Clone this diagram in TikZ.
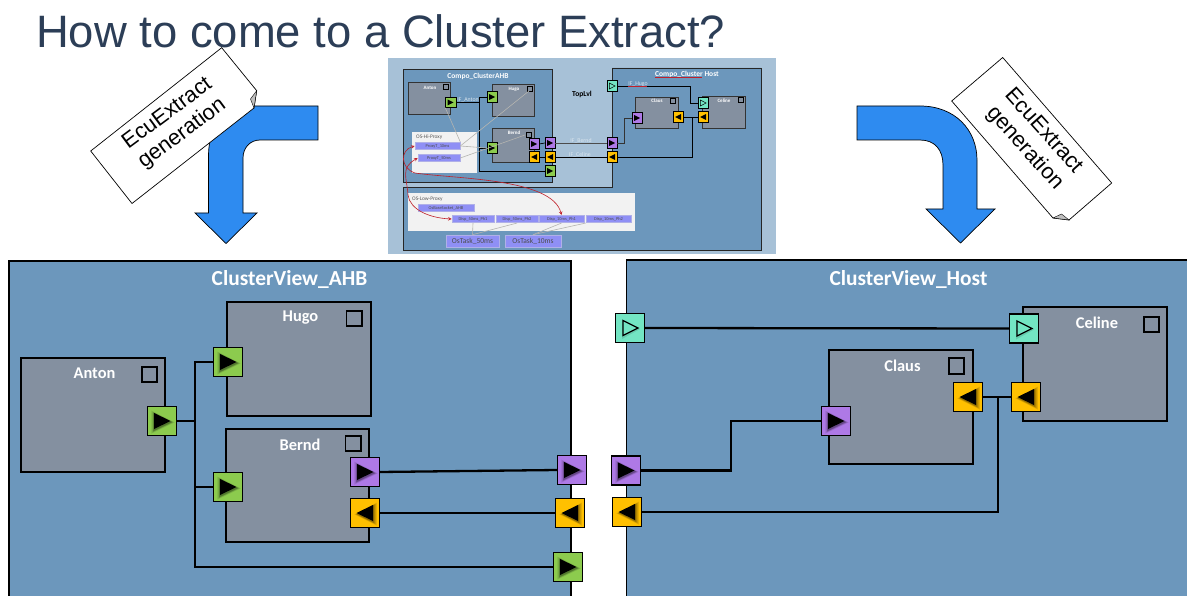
\documentclass[tikz,border=0pt]{standalone}
\usepackage{fontspec}
\setmainfont{Carlito}
\newfontfamily\titlefont{Liberation Sans}
\usetikzlibrary{calc}
\definecolor{panelblue}{HTML}{6C97BC}
\definecolor{boxgrey}{HTML}{8490A0}
\definecolor{arrowblue}{HTML}{2E8BF0}
\definecolor{titlecol}{HTML}{2C3E57}
\definecolor{pgreen}{HTML}{8CCB4E}
\definecolor{ppurple}{HTML}{AE79E6}
\definecolor{porange}{HTML}{FFC000}
\definecolor{pteal}{HTML}{73E5C3}
\definecolor{shotbg}{HTML}{A7C1D7}
\definecolor{osbox}{HTML}{F2F2F2}
\definecolor{taskfill}{HTML}{8F8FF5}
\definecolor{taskedge}{HTML}{B0B0E8}
\definecolor{redline}{HTML}{C0202A}
\definecolor{greyline}{HTML}{B4B4B0}
\tikzset{
  x=1pt,y=-1pt,
  panel/.style={draw=black,line width=1.3pt,fill=panelblue},
  swc/.style={draw=black,line width=1.2pt,fill=boxgrey},
  sqr/.style={draw=black,line width=1.1pt,fill=none},
  portbox/.style={draw=black,line width=1.3pt,minimum size=29pt,inner sep=0pt,outer sep=0pt,anchor=center},
  wire/.style={draw=black,line width=2.3pt,line join=miter},
  plabel/.style={text=white,font=\bfseries\fontsize{16.4}{18}\selectfont,inner sep=0pt},
  ptitle/.style={text=white,font=\bfseries\fontsize{21.4}{23}\selectfont,inner sep=0pt},
  bigarrow/.style={draw=black,line width=0.7pt,fill=arrowblue,line join=miter},
  paper/.style={draw=black,line width=0.7pt,fill=white,line join=miter},
  papertext/.style={align=center,inner sep=0pt,font=\titlefont\fontsize{21.8}{25}\selectfont,text=black},
  smallwire/.style={draw=black,line width=0.7pt},
  spanel/.style={draw=black!85,line width=0.7pt,fill=panelblue},
  sswc/.style={draw=black!80,line width=0.6pt,fill=boxgrey},
  sport/.style={draw=black,line width=0.5pt,minimum size=10.5pt,inner sep=0pt,outer sep=0pt},
  stask/.style={draw=taskedge,line width=0.6pt,fill=taskfill,inner sep=0pt,font=\fontsize{4.4}{5}\selectfont,text=black!70},
  bigtask/.style={stask,font=\fontsize{7.5}{8}\selectfont},
  greyl/.style={draw=greyline,line width=0.6pt},
  redl/.style={draw=redline,line width=0.6pt},
  stxt/.style={inner sep=0pt,font=\bfseries\fontsize{5}{6}\selectfont,text=white},
  sttl/.style={inner sep=0pt,font=\bfseries\fontsize{7.5}{8}\selectfont,text=white},
  iflbl/.style={inner sep=0pt,font=\fontsize{5.8}{6}\selectfont,text=white!75!panelblue},
  oslbl/.style={inner sep=0pt,anchor=west,font=\fontsize{5.4}{6}\selectfont,text=black!65},
}
\newcommand{\glowR}[1]{\begin{scope}[shift={(#1.center)}]
  \foreach \s/\o in {1.4/.10,1.25/.16,1.12/.22}{\fill[black,opacity=\o,scale=\s] (-7.6,-7.4) -- (9,1) -- (-7.6,9) -- cycle;}
  \fill[black] (-8,-8) -- (8.5,0) -- (-8,8) -- cycle;\end{scope}}
\newcommand{\glowL}[1]{\begin{scope}[shift={(#1.center)}]
  \foreach \s/\o in {1.4/.10,1.25/.16,1.12/.22}{\fill[black,opacity=\o,scale=\s] (8.4,-7.4) -- (-7.6,1) -- (8.4,9) -- cycle;}
  \fill[black] (8,-8) -- (-8.5,0) -- (8,8) -- cycle;\end{scope}}
\newcommand{\portR}[4]{\node[portbox,fill=#4] (#1) at (#2,#3) {}; \glowR{#1}}
\newcommand{\portL}[4]{\node[portbox,fill=#4] (#1) at (#2,#3) {}; \glowL{#1}}
\newcommand{\portO}[4]{\node[portbox,fill=#4] (#1) at (#2,#3) {};
  \fill[black,opacity=.12] ($(#1)+(-8,-8)$) -- ($(#1)+(10,1)$) -- ($(#1)+(-8,11)$) -- cycle;
  \draw[black,line width=1.3pt,fill=pteal] ($(#1)+(-7,-7.5)$) -- ($(#1)+(8,0)$) -- ($(#1)+(-7,7.5)$) -- cycle;}
\newcommand{\sportR}[4]{\node[sport,fill=#4] (#1) at (#2,#3) {}; \fill[black] ($(#1)+(-3,-3)$) -- ($(#1)+(3,0)$) -- ($(#1)+(-3,3)$) -- cycle;}
\newcommand{\sportL}[4]{\node[sport,fill=#4] (#1) at (#2,#3) {}; \fill[black] ($(#1)+(3,-3)$) -- ($(#1)+(-3,0)$) -- ($(#1)+(3,3)$) -- cycle;}
\newcommand{\sportO}[4]{\node[sport,fill=#4] (#1) at (#2,#3) {}; \draw[black,line width=0.5pt] ($(#1)+(-2.6,-3)$) -- ($(#1)+(3,0)$) -- ($(#1)+(-2.6,3)$) -- cycle;}
\begin{document}
\begin{tikzpicture}
\useasboundingbox (0,0) rectangle (1187,596);
\fill[white] (0,0) rectangle (1187,596);
% title
\node[anchor=west,inner sep=0pt,text=titlecol,font=\titlefont\fontsize{45.4}{50}\selectfont] (title) at (36,31) {How to come to a Cluster Extract?};

% left arrow
\draw[bigarrow] (318,106) -- (255,106) .. controls (228,106) and (208.5,125) .. (208.5,155) -- (208.5,213) -- (195,213) -- (226,243.5) -- (257,213) -- (243,213) -- (243,158) .. controls (243,148) and (250,140) .. (260,140) -- (318,140) -- cycle;
% left paper
\draw[paper] (221.7,47.7) -- (256.7,90.7) -- (254,108) -- (132,203.5) -- (90.7,151) -- cycle;
\draw[black,line width=0.4pt,fill=black!25] (256.7,90.7) -- (250.5,99) -- (254,108) -- cycle;
\node[papertext,rotate=36.5] (lbl1) at (175,124) {EcuExtract\\generation};

% right arrow
\draw[bigarrow] (857,106) -- (920,106) .. controls (955,106) and (977,130) .. (977,160) -- (977,209) -- (995,209) -- (960.5,243) -- (926,209) -- (943,209) -- (943,165) .. controls (943,150) and (935,140) .. (920,140) -- (857,140) -- cycle;
% right paper
\draw[paper] (1002.7,57.5) -- (1111.7,183) -- (1069,220) -- (1053,218) -- (951.7,101) -- cycle;
\draw[black,line width=0.4pt,fill=black!25] (1053,218) -- (1061.5,214) -- (1069,220) -- cycle;
\node[papertext,rotate=-48] (lbl2) at (1034,140) {EcuExtract\\generation};

% central screenshot
\fill[shotbg] (388,58) rectangle (776,254);
\draw[spanel] (403,69) rectangle (552,182);
\draw[spanel] (612,68) -- (761,68) -- (761,250) -- (403,250) -- (403,187.5) -- (612,187.5) -- cycle;
\node[sttl] (st1) at (478,76) {Compo\_ClusterAHB};
\node[sttl] (st2) at (687,74) {Compo\_Cluster Host};
\draw[redline,line width=0.4pt] (655,77.5) -- (702,77.5);
\node[inner sep=0pt,font=\bfseries\fontsize{7.6}{8}\selectfont,text=black] (st3) at (582,94) {TopLvl};
% small swcs
\draw[sswc] (408,82) rectangle (450,114);
\draw[sswc] (492,84) rectangle (534,116);
\draw[sswc] (492,128) rectangle (534,162);
\draw[sswc] (635,97) rectangle (678,128);
\draw[sswc] (702,96) rectangle (745,128);
\node[stxt] (sa) at (430,87.5) {Anton};
\node[stxt] (sh) at (514,89) {Hugo};
\node[stxt] (sb) at (514,133) {Bernd};
\node[stxt] (sc) at (657,101) {Claus};
\node[stxt] (sce) at (724,101) {Celine};
\foreach \p/\q in {445.5/86.5,530/88.5,528.5/135,673/100.5,740.5/100} \draw[black,line width=0.5pt] (\p-2.3,\q-2.3) rectangle (\p+2.3,\q+2.3);
% OS proxy boxes
\fill[osbox] (412,132) rectangle (477,173);
\fill[osbox] (408,193) rectangle (635,231);
\node[oslbl] (so1) at (416,137) {OS-Hi-Proxy};
\node[oslbl] (so2) at (412,199) {OS-Low-Proxy};
% tasks
\node[stask,minimum width=45pt,minimum height=7.5pt] (t1) at (437.5,146) {ProxyT\_10ms};
\node[stask,minimum width=42pt,minimum height=7.5pt] (t2) at (439,158) {ProxyT\_50ms};
\node[stask,minimum width=56pt,minimum height=7pt] (t3) at (446,208) {OsBaseSocket\_AHB};
\node[stask,minimum width=42pt,minimum height=7.5pt] (d1) at (473,219) {Disp\_50ms\_Ph1};
\node[stask,minimum width=42pt,minimum height=7.5pt] (d2) at (517,219) {Disp\_50ms\_Ph2};
\node[stask,minimum width=45pt,minimum height=7.5pt] (d3) at (561.5,219) {Disp\_10ms\_Ph1};
\node[stask,minimum width=45pt,minimum height=7.5pt] (d4) at (608.5,219) {Disp\_10ms\_Ph2};
\node[bigtask,minimum width=53pt,minimum height=12pt] (o1) at (472.5,241) {OsTask\_50ms};
\node[bigtask,minimum width=56pt,minimum height=12pt] (o2) at (533,241) {OsTask\_10ms};
% small ports
\sportR{sp1}{450.5}{102.5}{pgreen}
\sportR{sp2}{492}{97}{pgreen}
\sportR{sp3}{492}{148}{pgreen}
\sportR{sp4}{534}{144}{ppurple}
\sportL{sp5}{534}{157}{porange}
\sportR{sp6}{550}{143}{ppurple}
\sportL{sp7}{550}{157}{porange}
\sportR{sp8}{550}{171}{pgreen}
\sportO{sp9}{612}{86}{pteal}
\sportO{sp10}{703}{103}{pteal}
\sportR{sp11}{637}{118}{ppurple}
\sportL{sp12}{678}{117}{porange}
\sportL{sp13}{703}{117}{porange}
\sportR{sp14}{612}{143}{ppurple}
\sportL{sp15}{612}{157}{porange}
% small wires
\coordinate (sj) at (479,102.5);
\coordinate (sk) at (690.5,103);
\coordinate (sm) at (624,118);
\coordinate (sn) at (692,117);
\draw[smallwire,line width=1.1pt] (sp1.east) -- (sj);
\draw[smallwire] (sj) |- (sp2.west);
\draw[smallwire] (sj) |- (sp8.west);
\draw[smallwire] (sj |- sp3) -- (sp3.west);
\draw[smallwire] (sp4.east) -- (sp6.west);
\draw[smallwire] (sp5.east) -- (sp7.west);
\draw[smallwire,line width=0.9pt,draw=black!70] (sp6.east) -- (sp14.west);
\draw[smallwire] (sp7.east) -- (sp15.west);
\draw[smallwire] (sp9.east) -| (sk) -- (sp10.west);
\draw[smallwire,draw=black!80] (sp14.east) -| (sm) -- (sp11.west);
\draw[smallwire] (sp15.east) -| (sn);
\draw[smallwire] (sp12.east) -- (sp13.west);
% small labels
\node[iflbl] (l1) at (468,100) {IF\_Anton};
\node[iflbl] (l2) at (581,141) {IF\_Bernd};
\node[iflbl] (l3) at (580,155) {IF\_Celine};
\node[iflbl] (l4) at (638,84) {IF\_Hugo};
\draw[redline,line width=0.4pt] (628,86) -- (647,86);
% grey and red links
\coordinate (gh) at (529,91);
\coordinate (gb) at (525,135);
\draw[greyl] (t1.north east) -- (sp1.south west);
\draw[greyl] (t1.east) -- (gh);
\draw[greyl] (t1.east) -- (sp3.west);
\draw[greyl] (t2.east) -- (gb);
\draw[greyl] (d1.south) -- (o1.north);
\draw[greyl] (d2.south) -- (o1.north);
\draw[greyl] (d3.south) -- (o2.north);
\draw[greyl] (d4.south west) -- (o2.north);
\draw[redl,stealth-stealth] (t1.west) .. controls (400,150) and (400,168) .. (415,173) .. controls (455,179) and (552,178) .. (d3.north);
\draw[redl,stealth-stealth] (t2.west) .. controls (400,168) and (407,178) .. (408,195) .. controls (410,210) and (430,218) .. (d1.west);

% Left big panel
\draw[panel] (9,261) rectangle (571,600);
\node[ptitle] (tl) at (289.5,279) {ClusterView\_AHB};
\draw[swc] (21,358) rectangle (165,472);
\draw[swc] (227,302) rectangle (371,416);
\draw[swc] (226,429) rectangle (369,542);
\node[plabel] (na) at (94.5,373.5) {Anton};
\node[plabel] (nh) at (300.5,318) {Hugo};
\node[plabel] (nb) at (300,445) {Bernd};
\draw[sqr] (142,367) rectangle (157,382);
\draw[sqr] (346.5,311) rectangle (362,326);
\draw[sqr] (345.5,436) rectangle (361,451);

% right big panel
\draw[panel] (626.5,260) rectangle (1200,600);
\node[ptitle] (tr) at (908.5,279) {ClusterView\_Host};
\draw[swc] (829,350) rectangle (973,464);
\draw[swc] (1023,307) rectangle (1167,421);
\node[plabel] (nc) at (902.5,366) {Claus};
\node[plabel] (nce) at (1097,323) {Celine};
\draw[sqr] (949,358) rectangle (964,374);
\draw[sqr] (1144,317) rectangle (1159,332);

% big ports
\portR{a}{162}{421}{pgreen}
\portR{hu}{228}{362}{pgreen}
\portR{be}{228}{487}{pgreen}
\portR{bp}{365}{472}{ppurple}
\portL{bo}{365}{513}{porange}
\portR{op}{572}{470}{ppurple}
\portL{oo}{570}{513}{porange}
\portR{og}{568}{567}{pgreen}
\portO{it}{630}{328}{pteal}
\portO{ce}{1024}{328.5}{pteal}
\portR{ip}{626}{470.5}{ppurple}
\portL{io}{627}{512}{porange}
\portR{cl}{836}{421}{ppurple}
\portL{cp}{968}{397}{porange}
\portL{cep}{1026}{397}{porange}

% wires left
\coordinate (jl) at (195,421);
\coordinate (jp) at (731,421);
\coordinate (jr) at (998,397);
\draw[wire] (a.east) -- (jl);
\draw[wire] (jl) |- (hu.west);
\draw[wire] (jl) |- (og.west);
\draw[wire] (jl |- be.west) -- (be.west);
\draw[wire] (bp.east) -- (op.west);
\draw[wire] (bo.east) -- (oo.west);
% wires right
\draw[wire] (it.east) -- (ce.west);
\draw[wire] (ip.east) -| (jp) -- (cl.west);
\draw[wire] (io.east) -| (jr);
\draw[wire] (cp.east) -- (cep.west);
\end{tikzpicture}
\end{document}
